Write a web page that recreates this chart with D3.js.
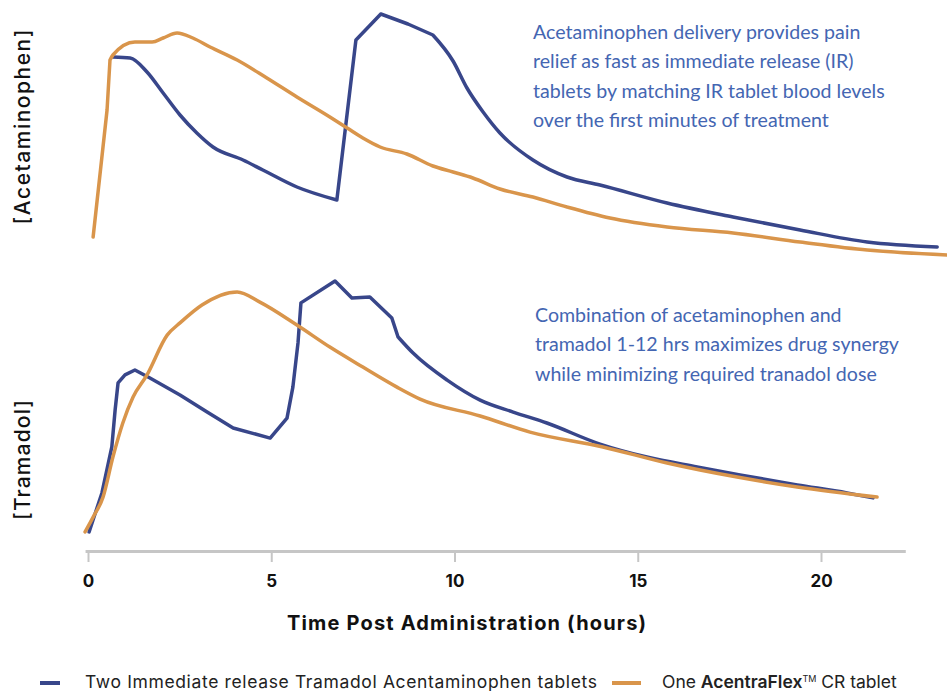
<!DOCTYPE html>
<html>
<head>
<meta charset="utf-8">
<script src="https://cdn.jsdelivr.net/npm/d3@7"></script>
<style>
  body { margin: 0; background: #fff; }
  svg { display: block; }
  .tick-label { font-family: Inter, 'Open Sans', sans-serif; font-weight: 700; font-size: 17px; fill: #111; }
  .axis-title { font-family: Inter, 'Open Sans', sans-serif; font-weight: 700; font-size: 20px; letter-spacing: 0.9px; fill: #111; }
  .y-label { font-family: Inter, 'Open Sans', sans-serif; font-weight: 500; font-size: 21px; fill: #111; }
  .note { font-family: Lato, 'Open Sans', sans-serif; font-size: 19.6px; fill: #4466b2; }
  .legend-text { font-family: Inter, 'Open Sans', sans-serif; font-size: 17.5px; fill: #222; }
</style>
</head>
<body>
<svg id="chart" width="947" height="691"></svg>
<script>
//////////////////////////////////////////////////////////////////////////////////////////
// Data (hours, relative concentration 0-100)
//////////////////////////////////////////////////////////////////////////////////////////
var series_names = ['Two Immediate release Tramadol Acentaminophen tablets', 'One AcentraFlex\u2122 CR tablet']
var x_ticks = [0, 5, 10, 15, 20]

var acet_ir_hours = [0.68, 1.15, 1.61, 2.05, 2.51, 2.97, 3.41, 4.23, 4.77, 5.70, 6.79,
  7.31, 7.99, 8.73, 9.41, 9.96, 10.34, 10.78, 11.24, 12.14, 13.07, 13.97, 15.80, 17.60, 19.43, 21.26, 23.17]
var acet_ir_values = [81.2, 80.8, 75.2, 66.8, 58.0, 50.8, 45.2, 40.0, 36.0, 29.2, 24.0,
  88.0, 98.4, 94.4, 90.0, 79.6, 68.8, 59.2, 50.8, 40.0, 33.2, 30.0, 22.8, 17.2, 12.0, 7.2, 5.2]

var acet_cr_hours = [0.14, 0.52, 0.60, 0.68, 1.28, 1.75, 2.05, 2.43, 2.86, 3.33, 4.07, 4.88, 5.70,
  6.60, 7.07, 7.50, 7.97, 8.70, 9.41, 9.96, 10.50, 11.24, 12.14, 13.07, 14.24, 15.80, 17.60, 19.43, 21.26, 23.44]
var acet_cr_values = [9.2, 60.0, 80.0, 82.0, 87.2, 87.2, 88.8, 90.8, 88.8, 85.2, 80.0, 72.8, 65.2,
  57.2, 52.8, 48.8, 45.2, 42.4, 37.6, 35.2, 32.8, 28.4, 25.2, 21.2, 16.8, 13.2, 10.8, 7.2, 4.0, 2.0]

var tram_ir_hours = [0.03, 0.38, 0.65, 0.74, 0.82, 1.01, 1.28, 1.69, 2.51, 3.25, 3.96, 4.97, 5.43, 5.59,
  5.73, 5.81, 6.74, 7.20, 7.69, 8.29, 8.46, 8.87, 9.80, 10.70, 11.60, 12.52, 13.97, 15.25, 16.62, 17.79,
  19.35, 20.71, 21.42]
var tram_ir_values = [3.1, 18.1, 35.8, 50.0, 60.4, 63.5, 65.4, 62.3, 55.8, 49.2, 43.1, 39.2, 46.9, 58.8,
  75.8, 91.2, 99.6, 93.1, 93.5, 85.4, 78.1, 71.9, 61.5, 53.8, 49.2, 45.0, 36.9, 31.9, 28.1, 25.0,
  21.2, 18.1, 16.2]

var tram_cr_hours = [-0.08, 0.14, 0.41, 0.68, 0.95, 1.23, 1.61, 2.16, 2.51, 3.11, 4.07, 4.69, 5.70, 6.60,
  7.50, 8.43, 9.06, 10.70, 12.06, 14.05, 15.80, 17.71, 19.35, 21.53]
var tram_cr_values = [3.1, 8.8, 16.5, 31.9, 45.0, 55.0, 63.5, 78.8, 83.5, 90.4, 95.4, 91.5, 82.7, 74.2,
  66.5, 58.8, 54.2, 47.7, 41.5, 35.8, 29.6, 24.2, 20.4, 16.5]

var notes_top = ['Acetaminophen delivery provides pain', 'relief as fast as immediate release (IR)',
  'tablets by matching IR tablet blood levels', 'over the first minutes of treatment']
var notes_bottom = ['Combination of acetaminophen and', 'tramadol 1-12 hrs maximizes drug synergy',
  'while minimizing required tranadol dose']

//////////////////////////////////////////////////////////////////////////////////////////
// Layout
//////////////////////////////////////////////////////////////////////////////////////////
var colors = { ir: '#38468a', cr: '#d9954b' }
var svg = d3.select('#chart')

var x = d3.scaleLinear().domain([0, 20]).range([88, 821])
var y_top = d3.scaleLinear().domain([0, 100]).range([260, 10])
var y_bottom = d3.scaleLinear().domain([0, 100]).range([540, 280])

function zip(hours, values) {
  return hours.map(function(h, i) { return [h, values[i]] })
}

// sharp corners split the line into smooth pieces: [from, to, curve]
draw_line(zip(acet_ir_hours, acet_ir_values), y_top, colors.ir,
  [[0, 10, d3.curveMonotoneX], [10, 12, d3.curveLinear], [12, 14, d3.curveLinear], [14, 26, d3.curveMonotoneX]])
draw_line(zip(acet_cr_hours, acet_cr_values), y_top, colors.cr,
  [[0, 2, d3.curveLinear], [2, 29, d3.curveMonotoneX]])
draw_line(zip(tram_ir_hours, tram_ir_values), y_bottom, colors.ir,
  [[0, 20, d3.curveLinear], [20, 32, d3.curveMonotoneX]])
draw_line(zip(tram_cr_hours, tram_cr_values), y_bottom, colors.cr,
  [[0, 23, d3.curveMonotoneX]])

function draw_line(points, y, color, pieces) {
  var d = pieces.map(function(p) {
    return d3.line()
      .x(function(d) { return x(d[0]) })
      .y(function(d) { return y(d[1]) })
      .curve(p[2])(points.slice(p[0], p[1] + 1))
  }).join('')
  svg.append('path')
    .attr('d', d)
    .attr('fill', 'none')
    .attr('stroke', color)
    .attr('stroke-width', 3.5)
    .attr('stroke-linejoin', 'round')
    .attr('stroke-linecap', 'round')
}

//////////////////////////////////////////////////////////////////////////////////////////
// X axis
//////////////////////////////////////////////////////////////////////////////////////////
var axis_scale = x.copy().domain([-0.08, 22.3]).range([x(-0.08), x(22.3)])
var g_axis = svg.append('g')
  .attr('transform', 'translate(0,551)')
  .call(d3.axisBottom(axis_scale).tickValues(x_ticks).tickSize(11).tickSizeOuter(0).tickPadding(13))

g_axis.select('.domain').attr('stroke', '#c6c6c6').attr('stroke-width', 3)
g_axis.selectAll('.tick line').attr('stroke', '#c6c6c6').attr('stroke-width', 2)
g_axis.selectAll('.tick text').attr('class', 'tick-label').attr('font-family', null).attr('font-size', null)

svg.append('text')
  .attr('class', 'axis-title')
  .attr('x', 467)
  .attr('y', 630)
  .attr('text-anchor', 'middle')
  .attr('textLength', 360)
  .text('Time Post Administration (hours)')

//////////////////////////////////////////////////////////////////////////////////////////
// Y labels
//////////////////////////////////////////////////////////////////////////////////////////
var y_labels = [['[Acetaminophen]', 127, 195], ['[Tramadol]', 460, 120]]
svg.selectAll('.y-label')
  .data(y_labels)
  .enter()
  .append('text')
  .attr('class', 'y-label')
  .attr('text-anchor', 'middle')
  .attr('textLength', function(d) { return d[2] })
  .attr('transform', function(d) { return 'translate(30,' + d[1] + ') rotate(-90)' })
  .text(function(d) { return d[0] })

//////////////////////////////////////////////////////////////////////////////////////////
// Notes
//////////////////////////////////////////////////////////////////////////////////////////
write_note(notes_top, 533, 39)
write_note(notes_bottom, 535, 322)

function write_note(lines, x0, y0) {
  svg.append('g')
    .selectAll('text')
    .data(lines)
    .enter()
    .append('text')
    .attr('class', 'note')
    .attr('x', x0)
    .attr('y', function(d, i) { return y0 + i * 29.3 })
    .text(function(d) { return d })
}

//////////////////////////////////////////////////////////////////////////////////////////
// Legend
//////////////////////////////////////////////////////////////////////////////////////////
var legend = [
  { color: colors.ir, x1: 40, x2: 60, tx: 85 },
  { color: colors.cr, x1: 612, x2: 641, tx: 662 }
]
var g_legend = svg.append('g').attr('transform', 'translate(0,683)')
g_legend.selectAll('line')
  .data(legend)
  .enter()
  .append('line')
  .attr('x1', function(d) { return d.x1 })
  .attr('x2', function(d) { return d.x2 })
  .attr('stroke', function(d) { return d.color })
  .attr('stroke-width', 4)

g_legend.append('text')
  .attr('class', 'legend-text')
  .attr('x', legend[0].tx)
  .attr('y', 5)
  .attr('textLength', 512)
  .text(series_names[0])

var t2 = g_legend.append('text').attr('class', 'legend-text').attr('x', legend[1].tx).attr('y', 5)
t2.append('tspan').text('One ')
t2.append('tspan').attr('font-weight', 600).text('AcentraFlex')
t2.append('tspan').attr('font-size', 9).attr('dy', -6).text('TM')
t2.append('tspan').attr('dy', 6).text(' CR tablet')
</script>
</body>
</html>
